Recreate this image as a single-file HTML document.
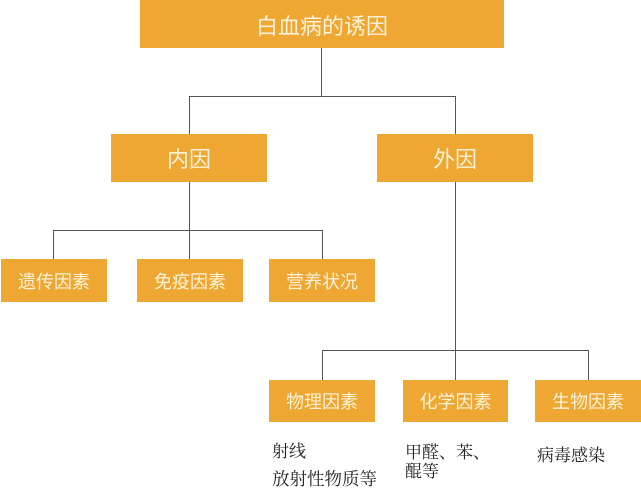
<!DOCTYPE html>
<html><head><meta charset="utf-8"><style>
html,body{margin:0;padding:0;background:#fff;}
body{width:641px;height:493px;position:relative;overflow:hidden;font-family:"Liberation Sans","Noto Sans CJK SC",sans-serif;}
.b{position:absolute;background:#EFA733;color:#FDF3D8;display:flex;align-items:center;justify-content:center;white-space:nowrap;}
.l{position:absolute;background:#555;}
.t{position:absolute;font-family:"Noto Serif CJK SC","Noto Serif CJK JP","Liberation Serif",serif;color:#222;font-size:17px;white-space:nowrap;line-height:1;}
</style></head><body>
<!-- lines -->
<div class="l" style="left:321px;top:48px;width:1px;height:49px"></div>
<div class="l" style="left:189px;top:96px;width:267px;height:1px"></div>
<div class="l" style="left:189px;top:96px;width:1px;height:38px"></div>
<div class="l" style="left:455px;top:96px;width:1px;height:38px"></div>
<div class="l" style="left:189px;top:182px;width:1px;height:77px"></div>
<div class="l" style="left:53px;top:230px;width:270px;height:1px"></div>
<div class="l" style="left:53px;top:230px;width:1px;height:29px"></div>
<div class="l" style="left:322px;top:230px;width:1px;height:29px"></div>
<div class="l" style="left:455px;top:182px;width:1px;height:198px"></div>
<div class="l" style="left:322px;top:350px;width:267px;height:1px"></div>
<div class="l" style="left:322px;top:350px;width:1px;height:30px"></div>
<div class="l" style="left:588px;top:350px;width:1px;height:30px"></div>
<!-- boxes -->
<div class="b" style="left:140px;top:0;width:364px;height:48px;font-size:22px;padding-top:2px;box-sizing:border-box">白血病的诱因</div>
<div class="b" style="left:111px;top:134px;width:156px;height:48px;font-size:22px">内因</div>
<div class="b" style="left:377px;top:134px;width:156px;height:48px;font-size:22px">外因</div>
<div class="b" style="left:1px;top:259px;width:106px;height:43px;font-size:18px">遗传因素</div>
<div class="b" style="left:137px;top:259px;width:106px;height:43px;font-size:18px">免疫因素</div>
<div class="b" style="left:269px;top:259px;width:106px;height:43px;font-size:18px">营养状况</div>
<div class="b" style="left:269px;top:380px;width:106px;height:42px;font-size:18px">物理因素</div>
<div class="b" style="left:403px;top:380px;width:105px;height:42px;font-size:18px">化学因素</div>
<div class="b" style="left:535px;top:380px;width:106px;height:42px;font-size:18px">生物因素</div>
<!-- notes -->
<div class="t" style="left:272px;top:441px;">射线</div>
<div class="t" style="left:272px;top:470px;font-size:17.5px">放射性物质等</div>
<div class="t" style="left:405px;top:442px;">甲醛、苯、</div>
<div class="t" style="left:405px;top:461px;">醌等</div>
<div class="t" style="left:537px;top:445px;">病毒感染</div>
</body></html>
